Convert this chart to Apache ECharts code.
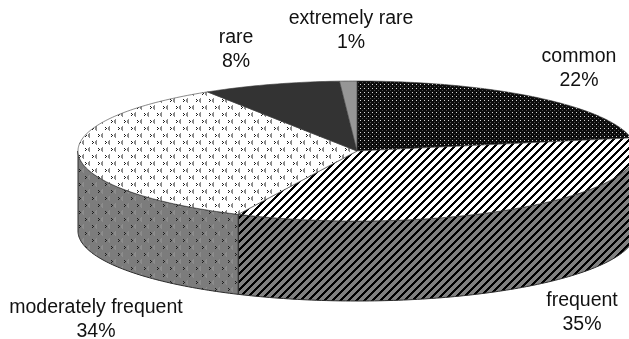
<!DOCTYPE html>
<html>
<head>
<meta charset="utf-8">
<style>
html, body { margin: 0; padding: 0; background: #fff; }
#main { width: 629px; height: 339px; filter: blur(0.4px); }
</style>
<script src="https://cdn.jsdelivr.net/npm/echarts@6/dist/echarts.min.js"></script>
</head>
<body>
<div id="main"></div>
<script>
var categories = ['common', 'frequent', 'moderately frequent', 'rare', 'extremely rare'];
var values = [22, 35, 34, 8, 1];

// layout of the tilted pie
var cx = 357, cy = 151, rx = 279, ry = 70, depth = 80;
var labelAnchors = [[579, 69], [582, 313], [96, 320], [236, 50], [351, 31]];

function tile(w, h, bg, draw) {
    var c = document.createElement('canvas');
    c.width = w;
    c.height = h;
    var ctx = c.getContext('2d');
    ctx.fillStyle = bg;
    ctx.fillRect(0, 0, w, h);
    draw(ctx);
    return { image: c, repeat: 'repeat' };
}
function stripes(bg, fg) {
    return tile(8, 8, bg, function(ctx) {
        ctx.fillStyle = fg;
        for (var i = 0; i < 8; i++) {
            for (var k = 0; k < 3; k++) ctx.fillRect((i + k) % 8, 7 - i, 1, 1);
        }
    });
}
function chevrons(bg) {
    return tile(13, 14, bg, function(ctx) {
        // each mark is a dark ">" next to a grey "<"
        [[1, 1], [7, 8]].forEach(function(m) {
            var x = m[0], y = m[1];
            ctx.fillStyle = '#1e1e1e';
            ctx.fillRect(x, y, 1, 1);
            ctx.fillRect(x + 1, y + 1, 1, 1);
            ctx.fillRect(x, y + 2, 1, 1);
            ctx.fillStyle = '#8c8c8c';
            ctx.fillRect(x + 4, y - 1, 1, 1);
            ctx.fillRect(x + 3, y, 2, 3);
            ctx.fillRect(x + 4, y + 3, 1, 1);
        });
    });
}
var dots = tile(4, 4, '#0c0c0c', function(ctx) {
    ctx.fillStyle = '#d8d8d8';
    ctx.fillRect(0, 0, 1, 1);
    ctx.fillStyle = '#4a4a4a';
    ctx.fillRect(2, 2, 1, 1);
});

var topFills = [dots, stripes('#ffffff', '#000000'), chevrons('#ffffff'), '#333333', '#969696'];
var sideFills = [dots, stripes('#808080', '#000000'), chevrons('#7c7c7c'), '#333333', '#969696'];

var total = values.reduce(function(a, b) { return a + b; }, 0);

function rimPoint(deg, drop) {
    var t = deg * Math.PI / 180;
    return [cx + rx * Math.sin(t), cy - ry * Math.cos(t) + drop];
}
function arc(from, to, drop) {
    var pts = [];
    var n = Math.max(2, Math.ceil(Math.abs(to - from)));
    for (var i = 0; i <= n; i++) pts.push(rimPoint(from + (to - from) * i / n, drop));
    return pts;
}

function renderSlice(params, api) {
    var idx = params.dataIndex;
    var before = 0;
    for (var i = 0; i < idx; i++) before += values[i];
    var start = before / total * 360;
    var end = (before + values[idx]) / total * 360;
    var children = [];

    // only the front half of the rim has a visible wall
    var wallFrom = Math.max(start, 90), wallTo = Math.min(end, 270);
    if (wallTo > wallFrom) {
        children.push({
            type: 'polygon',
            shape: { points: arc(wallFrom, wallTo, 0).concat(arc(wallTo, wallFrom, depth)) },
            style: { fill: sideFills[idx], stroke: '#2a2a2a', lineWidth: 1, lineJoin: 'round' }
        });
    }
    children.push({
        type: 'polygon',
        shape: { points: [[cx, cy]].concat(arc(start, end, 0)) },
        style: { fill: topFills[idx], stroke: '#3a3a3a', lineWidth: 0.6 }
    });
    children.push({
        type: 'text',
        x: labelAnchors[idx][0],
        y: labelAnchors[idx][1],
        style: {
            text: categories[idx] + '\n' + api.value(0) + '%',
            fill: '#111111',
            font: '19.5px "Liberation Sans", Arial, sans-serif',
            lineHeight: 24,
            align: 'center',
            verticalAlign: 'middle'
        }
    });
    return { type: 'group', children: children };
}

var chart = echarts.init(document.getElementById('main'), null, { renderer: 'canvas' });
chart.setOption({
    animation: false,
    backgroundColor: '#ffffff',
    series: [{
        type: 'custom',
        coordinateSystem: 'none',
        renderItem: renderSlice,
        silent: true,
        data: values.map(function(v) { return [v]; })
    }]
});
</script>
</body>
</html>
